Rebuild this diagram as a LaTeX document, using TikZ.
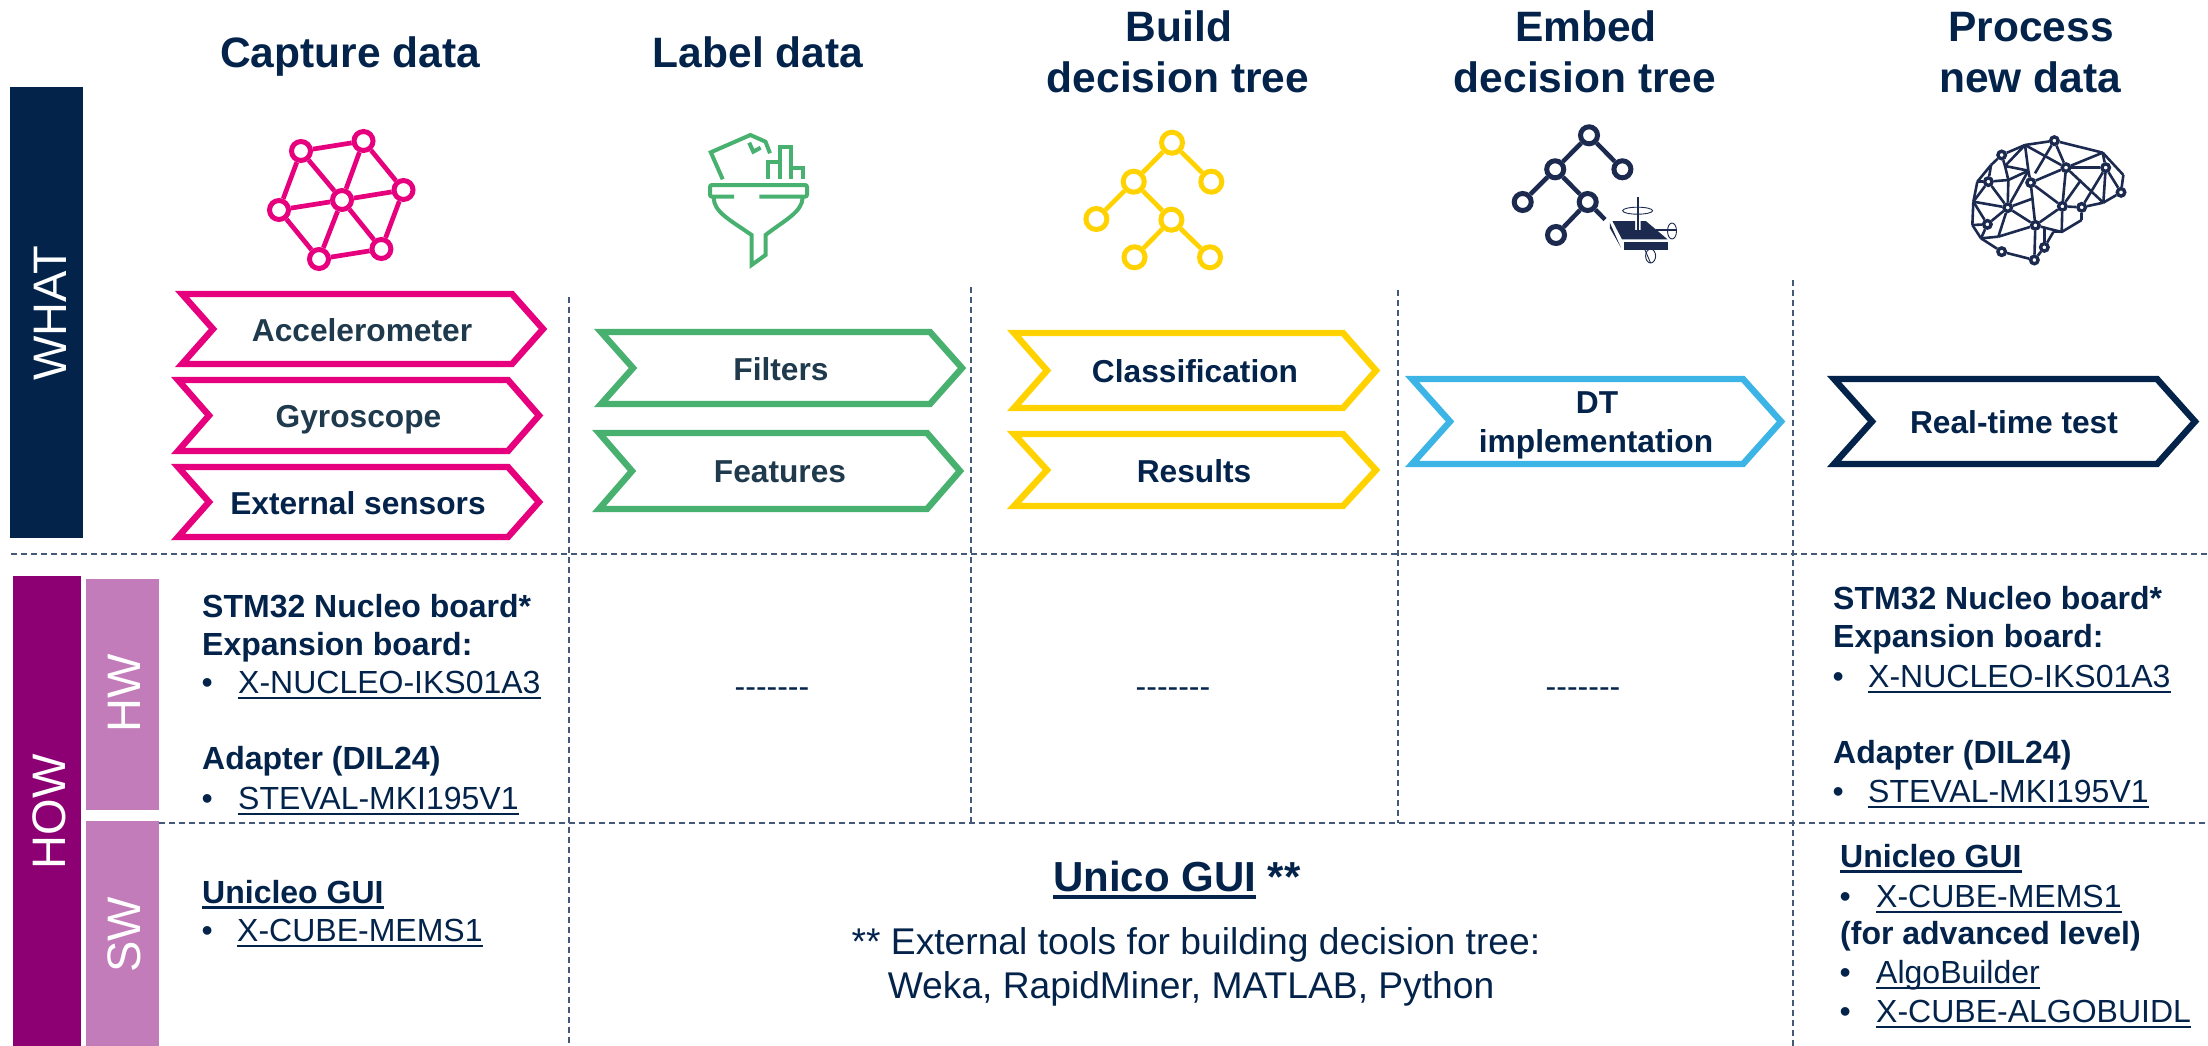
\documentclass[tikz,border=0pt]{standalone}
\usepackage{fontspec}
\setmainfont{Liberation Sans}
\definecolor{navy}{HTML}{03234B}
\definecolor{slatetxt}{HTML}{1F3A4D}
\definecolor{pinkst}{HTML}{E6007E}
\definecolor{greenst}{HTML}{49B170}
\definecolor{yellowst}{HTML}{FFD200}
\definecolor{bluest}{HTML}{3CB4E6}
\definecolor{purplest}{HTML}{8C0073}
\definecolor{lilacst}{HTML}{C27CB9}
\definecolor{dashcol}{HTML}{44597A}
\definecolor{iconnavy}{HTML}{1B2A4E}
\newcommand{\chev}[6]{\draw[chevline,#1] (#2,#3) -- ({#4-#6},#3) -- (#4,{(#3+#5)/2}) -- ({#4-#6},#5) -- (#2,#5) -- ({#2+#6},{(#3+#5)/2}) -- cycle;}
\newcommand{\ulreg}[1]{\setbox0\hbox{#1}\leavevmode\rlap{\rule[-.2em]{\wd0}{.075em}}\box0\relax}
\newcommand{\ulbold}[1]{\setbox0\hbox{#1}\leavevmode\rlap{\rule[-.2em]{\wd0}{.1em}}\box0\relax}
\newcommand{\sevenhy}{-{}-{}-{}-{}-{}-{}-}
\tikzset{
  gridline/.style={dashcol,line width=1.6pt,dash pattern=on 6pt off 4pt},
  chevline/.style={line width=6.4pt,miter limit=10,line join=miter},
  ttl/.style={anchor=base,inner sep=0pt,text=navy,font=\fontsize{42.5}{50}\selectfont\bfseries},
  chevtxt/.style={anchor=base,inner sep=0pt,text=navy,font=\fontsize{31.7}{38}\selectfont\bfseries},
  txt/.style={anchor=base west,inner sep=0pt,text=navy,font=\fontsize{32}{38}\selectfont},
  btxt/.style={txt,font=\fontsize{32}{38}\selectfont\bfseries},
  mid/.style={anchor=base,inner sep=0pt,text=navy,font=\fontsize{37.2}{44}\selectfont},
  bar/.style={white,anchor=base,rotate=90,inner sep=0pt,font=\fontsize{47}{54}\selectfont},
  pring/.style={circle,draw=pinkst,fill=white,line width=5pt,minimum size=19pt,inner sep=0pt},
  pedge/.style={pinkst,line width=4.7pt},
  gedge/.style={greenst,line width=4pt},
  yring/.style={circle,draw=yellowst,fill=white,line width=5pt,minimum size=21pt,inner sep=0pt},
  yedge/.style={yellowst,line width=4.7pt},
  nring/.style={circle,draw=iconnavy,fill=white,line width=5pt,minimum size=17pt,inner sep=0pt},
  nedge/.style={iconnavy,line width=4.5pt},
  bring/.style={circle,draw=iconnavy,fill=white,line width=3.4pt,minimum size=7.5pt,inner sep=0pt},
  bedge/.style={iconnavy,line width=2.6pt,line join=round},
}
\begin{document}
\begin{tikzpicture}[x=1pt,y=-1pt]
\useasboundingbox (0,0) rectangle (2208,1046);
% bars
\fill[navy] (10,87) rectangle (83,538);
\fill[purplest] (13,576) rectangle (81,1046);
\fill[lilacst] (86,579) rectangle (159,810);
\fill[lilacst] (86,821) rectangle (159,1046);
\node[bar] (what) at (66,313) {WHAT};
\node[bar] (how) at (65,812) {HOW};
\node[bar] (hw) at (140,693) {HW};
\node[bar] (sw) at (140,935) {SW};
% grid
\draw[gridline] (11,554) -- (2208,554);
\draw[gridline] (159,823) -- (2208,823);
\draw[gridline] (569,297) -- (569,1046);
\draw[gridline] (971,287) -- (971,823);
\draw[gridline] (1398,290) -- (1398,823);
\draw[gridline] (1793,280) -- (1793,1046);
% titles
\node[ttl] (t1) at (350,68) {Capture data};
\node[ttl] (t2) at (758,68) {Label data};
\node[ttl] (t3a) at (1179,42) {Build};
\node[ttl] (t3b) at (1178,93) {decision tree};
\node[ttl] (t4a) at (1586,42) {Embed};
\node[ttl] (t4b) at (1585,93) {decision tree};
\node[ttl] (t5a) at (2031,42) {Process};
\node[ttl] (t5b) at (2030,93) {new data};
% chevrons
\chev{pinkst}{182}{294}{543}{364}{31}
\chev{pinkst}{178}{380}{539}{451}{31}
\chev{pinkst}{178}{467}{539}{537}{31}
\chev{greenst}{601}{332}{962}{404}{32}
\chev{greenst}{599}{433}{960}{509}{33}
\chev{yellowst}{1014}{333}{1376}{408}{33}
\chev{yellowst}{1014}{434}{1376}{506}{33}
\chev{bluest}{1412}{379}{1781}{464}{38}
\chev{navy}{1834}{379}{2195}{464}{38}
\node[chevtxt,text=slatetxt] (c1) at (362,341) {Accelerometer};
\node[chevtxt,text=slatetxt] (c2) at (358.5,427) {Gyroscope};
\node[chevtxt] (c3) at (358,514) {External sensors};
\node[chevtxt,text=slatetxt] (c4) at (781,380) {Filters};
\node[chevtxt,text=slatetxt] (c5) at (780,482) {Features};
\node[chevtxt] (c6) at (1195,382) {Classification};
\node[chevtxt] (c7) at (1194,482) {Results};
\node[chevtxt] (c8a) at (1597,413) {DT};
\node[chevtxt] (c8b) at (1596,452) {implementation};
\node[chevtxt] (c9) at (2014,433) {Real-time test};
% left column
\node[btxt] (l1) at (202,617) {STM32 Nucleo board*};
\node[btxt] (l2) at (202,655) {Expansion board:};
\node[txt] (l3b) at (201.5,693) {\textbullet};
\node[txt] (l3) at (238,693) {\ulreg{X-NUCLEO-IKS01A3}};
\node[btxt] (l4) at (202,769) {Adapter (DIL24)};
\node[txt] (l5b) at (201.5,809) {\textbullet};
\node[txt] (l5) at (238,809) {\ulreg{STEVAL-MKI195V1}};
\node[btxt] (l6) at (202,903) {\ulbold{Unicleo GUI}};
\node[txt] (l7b) at (201.5,941) {\textbullet};
\node[txt] (l7) at (237,941) {\ulreg{X-CUBE-MEMS1}};
% empties
\node[txt,anchor=base] (d1) at (772,697) {\sevenhy};
\node[txt,anchor=base] (d2) at (1173,697) {\sevenhy};
\node[txt,anchor=base] (d3) at (1583,697) {\sevenhy};
% middle
\node[anchor=base west,inner sep=0pt,text=navy,font=\fontsize{42}{50}\selectfont\bfseries] (u1) at (1053,891) {\ulbold{Unico GUI} **};
\node[mid] (u2) at (1196,954) {** External tools for building decision tree:};
\node[mid] (u3) at (1191,998) {Weka, RapidMiner, MATLAB, Python};
% right column
\node[btxt] (r1) at (1833,609) {STM32 Nucleo board*};
\node[btxt] (r2) at (1833,647) {Expansion board:};
\node[txt] (r3b) at (1832.5,687) {\textbullet};
\node[txt] (r3) at (1868,687) {\ulreg{X-NUCLEO-IKS01A3}};
\node[btxt] (r4) at (1833,763) {Adapter (DIL24)};
\node[txt] (r5b) at (1832.5,802) {\textbullet};
\node[txt] (r5) at (1868,802) {\ulreg{STEVAL-MKI195V1}};
\node[btxt] (r6) at (1840,867) {\ulbold{Unicleo GUI}};
\node[txt] (r7b) at (1839.5,907) {\textbullet};
\node[txt] (r7) at (1876,907) {\ulreg{X-CUBE-MEMS1}};
\node[btxt] (r8) at (1840,944) {(for advanced level)};
\node[txt] (r9b) at (1839.5,983) {\textbullet};
\node[txt] (r9) at (1876,983) {\ulreg{AlgoBuilder}};
\node[txt] (r10b) at (1839.5,1022) {\textbullet};
\node[txt] (r10) at (1876,1022) {\ulreg{X-CUBE-ALGOBUIDL}};
% pink network icon
\node[pring] (pA) at (301,151) {};
\node[pring] (pB) at (363.5,141) {};
\node[pring] (pC) at (403.5,190) {};
\node[pring] (pD) at (342,200) {};
\node[pring] (pE) at (279,210) {};
\node[pring] (pF) at (319,259) {};
\node[pring] (pG) at (381.4,249) {};
\foreach \a/\b in {pA/pB,pB/pC,pC/pG,pG/pF,pF/pE,pE/pA,pD/pA,pD/pB,pD/pC,pD/pE,pD/pF,pD/pG}
  \draw[pedge] (\a) -- (\b);
% green funnel icon
\draw[gedge,line join=miter] (722.7,179.3) -- (710.8,152.3) -- (750.4,135) -- (765.5,141.7) -- (770,153.3);
\draw[gedge] (749.2,142.7) -- (753.3,151.7) -- (760.6,147.7);
\draw[gedge] (768,179.3) -- (768,161.7) -- (779.8,161.7);
\draw[gedge] (779.8,179.3) -- (779.8,147.3) -- (791.2,147.3) -- (791.2,179.3);
\draw[gedge] (791.2,168.3) -- (802.6,168.3) -- (802.6,179.3);
\draw[gedge,rounded corners=2pt] (734,196.7) -- (710,196.7) -- (710,185) -- (807,185) -- (807,196.7) -- (759.4,196.7);
\draw[gedge] (713.7,198) .. controls (714,212) and (730,220) .. (751.6,235) -- (751.6,265) -- (765.5,255) -- (765.5,235) .. controls (785,220) and (802,212) .. (802.6,198);
% yellow tree icon
\node[yring] (yR) at (1172,142.7) {};
\node[yring] (yL) at (1133.7,181.7) {};
\node[yring] (yS) at (1211.3,181.7) {};
\node[yring] (yA) at (1096.4,219) {};
\node[yring] (yM) at (1171.4,219.7) {};
\node[yring] (yB) at (1134.5,257.3) {};
\node[yring] (yC) at (1210,257.3) {};
\foreach \a/\b in {yR/yL,yR/yS,yL/yA,yL/yM,yM/yB,yM/yC}
  \draw[yedge] (\a) -- (\b);
% navy tree icon
\node[nring] (nR) at (1589,135.3) {};
\node[nring] (nL) at (1555.2,169.3) {};
\node[nring] (nS) at (1622.4,169.3) {};
\node[nring] (nA) at (1522.7,202) {};
\node[nring] (nM) at (1587.7,202) {};
\node[nring] (nB) at (1556,235) {};
\coordinate (nStub) at (1605,219.5);
\foreach \a/\b in {nR/nL,nR/nS,nL/nA,nL/nM,nM/nB,nM/nStub}
  \draw[nedge] (\a) -- (\b);
% gyro chip glyph
\fill[iconnavy] (1612.4,221) -- (1635,221) -- (1635,230) -- (1640.6,230) -- (1640.6,221) -- (1645.8,221) -- (1667.5,239.3) -- (1622,239.3) -- cycle;
\fill[iconnavy] (1624,241.7) rectangle (1668.4,250);
\fill[iconnavy] (1609.8,222.7) -- (1621,247.7) -- (1609.8,228) -- cycle;
\draw[iconnavy,line width=1.5pt] (1638,197.3) -- (1638,230);
\draw[iconnavy,line width=0.9pt] (1637.6,210.7) ellipse (15 and 3.5);
\draw[iconnavy,line width=1.2pt] (1656,230) -- (1676.6,230);
\draw[iconnavy,line width=0.9pt] (1672,231) ellipse (4.5 and 8);
\draw[iconnavy,line width=0.9pt] (1645,250) -- (1650.6,263);
\draw[iconnavy,line width=0.9pt] (1650.6,256) ellipse (5 and 7);
% brain icon
\begin{scope}[shift={(1920,110)},x=0.33333pt,y=-0.33333pt]
\coordinate (ba) at (315,105); \coordinate (bb) at (548,128);
\coordinate (bc) at (610,195); \coordinate (bd) at (425,366);
\coordinate (be) at (485,330); \coordinate (bf) at (172,215);
\coordinate (bg) at (160,275); \coordinate (bh) at (157,345);
\coordinate (bi) at (183,385); \coordinate (bj) at (265,210);
\coordinate (bk) at (255,168); \coordinate (bl) at (325,182);
\coordinate (bm) at (550,278); \coordinate (bn) at (483,210);
\coordinate (bo) at (213,165); \coordinate (bp) at (400,366);
\coordinate (bq) at (235,380); \coordinate (br) at (340,265);
\coordinate (bs) at (345,190); \coordinate (bt) at (373,355);
\node[bring] (b1) at (245,135) {};
\node[bring] (b2) at (403,92) {};
\node[bring] (b3) at (438,173) {};
\node[bring] (b4) at (557,173) {};
\node[bring] (b5) at (603,247) {};
\node[bring] (b6) at (332,218) {};
\node[bring] (b7) at (205,215) {};
\node[bring] (b8) at (263,293) {};
\node[bring] (b9) at (427,289) {};
\node[bring] (b10) at (485,292) {};
\node[bring] (b11) at (202,343) {};
\node[bring] (b12) at (346,346) {};
\node[bring] (b13) at (373,412) {};
\node[bring] (b14) at (245,425) {};
\node[bring] (b15) at (343,450) {};
\foreach \a/\b in {b1/ba,ba/b2,b2/bb,bb/bc,bc/b5,b5/bm,bm/b10,b10/be,be/bd,bd/bp,bp/b13,b13/b15,b15/b14,b14/bi,bi/bh,bh/bg,bg/bf,bf/bo,bo/b1,
  ba/bl,bl/b6,ba/bk,b1/bk,bk/bl,bk/bj,bj/bl,b7/bj,bo/b7,bf/b7,bj/b8,bl/b8,b7/b8,b7/bg,bg/b8,bg/b11,b11/bh,b11/b8,b11/bi,b8/bq,bq/bi,bq/b12,b8/b12,
  b8/br,b6/b12,b6/b9,b6/b3,ba/b3,b2/b3,b2/bs,b3/bb,b3/b4,bb/b4,b4/b5,b4/bm,b4/b10,b3/bm,bn/b9,b3/b9,b9/b10,b9/b12,b9/bd,b12/b15,b12/bd,bt/b13}
  \draw[bedge] (\a) -- (\b);
\end{scope}
\end{tikzpicture}
\end{document}
